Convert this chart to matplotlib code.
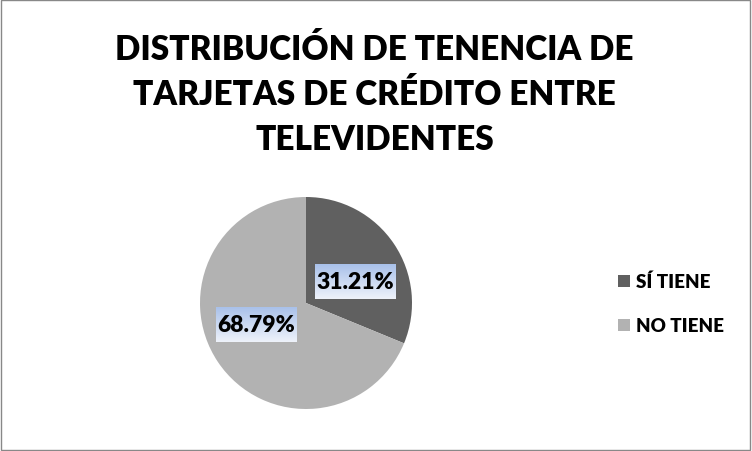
import numpy as np
import matplotlib
matplotlib.use("Agg")
import matplotlib.pyplot as plt
from matplotlib.patches import Rectangle
from matplotlib.colors import LinearSegmentedColormap

# data
categories = ["SÍ TIENE", "NO TIENE"]
values = [31.21, 68.79]
colors = ["#606060", "#b2b2b2"]
title = "DISTRIBUCIÓN DE TENENCIA DE\nTARJETAS DE CRÉDITO ENTRE\nTELEVIDENTES"

plt.rcParams['font.family'] = ['Lato', 'DejaVu Sans']

fig = plt.figure(figsize=(7.52, 4.52), dpi=100)
fig.patch.set_facecolor("white")
fig.patches.append(Rectangle((0.001, 0.002), 0.996, 0.996, transform=fig.transFigure,
                             fill=False, edgecolor="#888888", linewidth=1))

fig.text(0.498, 0.79, title, ha="center", va="center", fontsize=24, fontweight="heavy",
         linespacing=1.5)

# pie axes: center ~ (306,304) px, radius ~106 px
cx, cy, r = 306 / 752, 1 - 304 / 452, 106
ax = fig.add_axes([cx - r / 752, cy - r / 452, 2 * r / 752, 2 * r / 452])
wedges, _ = ax.pie(values, colors=colors, startangle=90, counterclock=False, radius=1,
                   wedgeprops=dict(linewidth=0))

cmap = LinearSegmentedColormap.from_list("lbl", ["#eef2fa", "#a9c1ea"])
grad = np.linspace(0, 1, 64).reshape(-1, 1)
bw, bh = 0.76, 0.33
for w, v in zip(wedges, values):
    ang = np.deg2rad((w.theta1 + w.theta2) / 2 - 10)
    x, y = 0.51 * np.cos(ang), 0.51 * np.sin(ang)
    ax.imshow(grad, cmap=cmap, origin="lower", aspect="auto",
              extent=[x - bw / 2, x + bw / 2, y - bh / 2, y + bh / 2], zorder=3)
    ax.text(x, y, f"{v:.2f}%", ha="center", va="center", fontsize=16.5,
            fontweight="heavy", zorder=4)
ax.set_xlim(-1, 1)
ax.set_ylim(-1, 1)
ax.set_aspect("equal")

# legend
leg = fig.legend(wedges, categories, loc="center left", bbox_to_anchor=(0.8, 0.326),
                 frameon=False, fontsize=13.5, handlelength=0.6, handleheight=0.6,
                 handletextpad=0.35, labelspacing=1.45)
for t in leg.get_texts():
    t.set_fontweight("heavy")

fig.savefig("out.png", dpi=100)
